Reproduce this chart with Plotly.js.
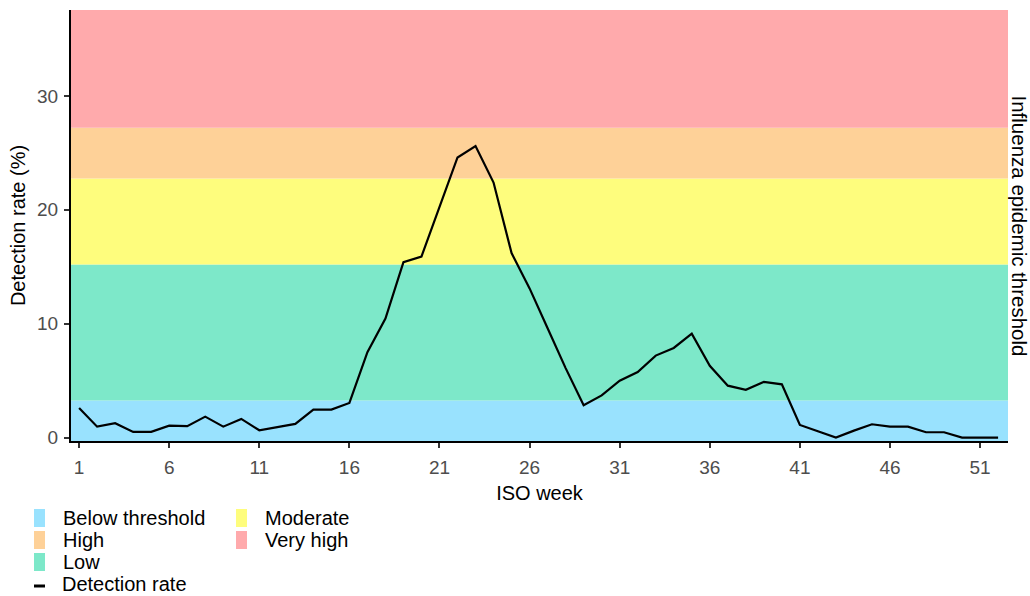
<!DOCTYPE html>
<html>
<head>
<meta charset="utf-8">
<script src="https://cdn.plot.ly/plotly-3.0.1.min.js"></script>
<style>html,body{margin:0;padding:0;background:#fff}#chart{width:1030px;height:596px}</style>
</head>
<body>
<div id="chart"></div>
<script>
// ---- data ----
const weeks = [1,2,3,4,5,6,7,8,9,10,11,12,13,14,15,16,17,18,19,20,21,22,23,24,25,26,27,28,29,30,31,32,33,34,35,36,37,38,39,40,41,42,43,44,45,46,47,48,49,50,51,52];
const detectionRate = [2.6,0.96,1.26,0.5,0.5,1.05,1.0,1.84,0.96,1.64,0.64,0.9,1.2,2.46,2.46,3.04,7.5,10.45,15.4,15.9,20.3,24.6,25.6,22.4,16.2,13.1,9.6,6.1,2.84,3.7,5.0,5.76,7.2,7.87,9.12,6.3,4.56,4.2,4.9,4.68,1.11,0.53,0.0,0.61,1.17,0.96,0.96,0.47,0.47,0.0,0.0,0.0];
const bandNames = ["Below threshold","Low","Moderate","High","Very high"];
const bandLower = [-1, 3.25, 15.2, 22.75, 27.2];
const bandUpper = [3.25, 15.2, 22.75, 27.2, 100];
const bandColors = ["#99E2FE","#7DE8C9","#FEFD7D","#FED198","#FFAAAC"];
const xTickVals = [1,6,11,16,21,26,31,36,41,46,51];
const yTickVals = [0,10,20,30];
const legendOrder = ["Below threshold","High","Low","Moderate","Very high"];

// ---- layout geometry ----
const W = 1030, H = 596;
const L = 71, R = 1008, T = 10, B = 441;
const px = x => (x - L) / (R - L);
const py = y => (B - y) / (B - T);

const shapes = [];
bandNames.forEach((n, i) => {
  shapes.push({type:'rect', xref:'paper', yref:'y', x0:0, x1:1, y0:bandLower[i], y1:bandUpper[i],
    fillcolor:bandColors[i], line:{width:0}, layer:'below'});
});

const annotations = [
  {text:'Influenza epidemic threshold', xref:'paper', yref:'paper', x:px(1019), y:0.5, textangle:90,
   showarrow:false, font:{size:20.5, color:'#000'}, xanchor:'center', yanchor:'middle'}
];

// custom legend (two columns, column-major like ggplot)
const legendCols = [[34, 61],[236, 263]];
const rowY = [518, 540, 562];
legendOrder.forEach((name, k) => {
  const col = Math.floor(k / 3), row = k % 3;
  const idx = bandNames.indexOf(name);
  const kx = legendCols[col][0], tx = legendCols[col][1], cy = rowY[row];
  shapes.push({type:'rect', xref:'paper', yref:'paper', x0:px(kx), x1:px(kx+11), y0:py(cy-9), y1:py(cy+9),
    fillcolor:bandColors[idx], line:{width:0}});
  annotations.push({text:name, xref:'paper', yref:'paper', x:px(tx), y:py(cy), xanchor:'left', yanchor:'middle',
    showarrow:false, font:{size:20, color:'#000'}});
});
shapes.push({type:'line', xref:'paper', yref:'paper', x0:px(34), x1:px(45), y0:py(586), y1:py(586),
  line:{color:'#000', width:3}});
annotations.push({text:'Detection rate', xref:'paper', yref:'paper', x:px(61), y:py(584), xanchor:'left', yanchor:'middle',
  showarrow:false, borderpad:0, font:{size:20, color:'#000'}});

const trace = {x:weeks, y:detectionRate, type:'scatter', mode:'lines', line:{color:'#000', width:2.2},
  showlegend:false, hoverinfo:'x+y'};

const layout = {
  width:W, height:H,
  margin:{l:L, r:W-R, t:T, b:H-B},
  paper_bgcolor:'#fff', plot_bgcolor:'#fff',
  font:{family:'"Liberation Sans", Arial, sans-serif', color:'#000'},
  showlegend:false,
  xaxis:{range:[0.55,52.55], tickvals:xTickVals, ticktext:xTickVals.map(String), showgrid:false, zeroline:false,
    showline:true, linecolor:'#000', linewidth:2, ticks:'outside', ticklen:5, tickwidth:2, tickcolor:'#333',
    ticklabelstandoff:3,
    tickfont:{size:19, color:'#4D4D4D'},
    title:{text:'ISO week', font:{size:20, color:'#000'}, standoff:9}},
  yaxis:{range:[-0.3,37.55], tickvals:yTickVals, showgrid:false, zeroline:false,
    showline:true, linecolor:'#000', linewidth:2, ticks:'outside', ticklen:5, tickwidth:2, tickcolor:'#333',
    ticklabelstandoff:2,
    tickfont:{size:19, color:'#4D4D4D'},
    title:{text:'Detection rate (%)', font:{size:20, color:'#000'}, standoff:6}},
  shapes:shapes,
  annotations:annotations
};
Plotly.newPlot('chart', [trace], layout, {displayModeBar:false, staticPlot:true});
</script>
</body>
</html>
